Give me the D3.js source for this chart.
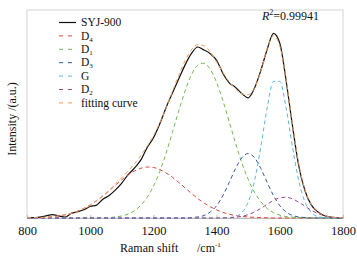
<!DOCTYPE html>
<html>
<head>
<meta charset="utf-8">
<script src="https://cdn.jsdelivr.net/npm/d3@7/dist/d3.min.js"></script>
<style>
  body { margin: 0; background: #fff; }
  svg { display: block; font-family: 'Liberation Serif', 'DejaVu Serif', serif; }
</style>
</head>
<body>
<svg id="mainFrame"></svg>
<script>
// Raman shift grid (cm-1)
const ramanShift = [
    800, 820, 840, 860, 880, 900, 920, 940, 960, 980,
    1000, 1020, 1040, 1060, 1080, 1100, 1120, 1140, 1160, 1180,
    1200, 1220, 1240, 1260, 1280, 1300, 1320, 1340, 1360, 1380,
    1400, 1420, 1440, 1460, 1480, 1500, 1520, 1540, 1560, 1580,
    1600, 1620, 1640, 1660, 1680, 1700, 1720, 1740, 1760, 1780, 1800];

// measured spectrum
const syj900 = [
    0.000, 0.002, 0.004, 0.010, 0.016, 0.010, 0.004, 0.022, 0.030, 0.040,
    0.055, 0.062, 0.090, 0.108, 0.135, 0.168, 0.208, 0.240, 0.278, 0.338,
    0.385, 0.452, 0.530, 0.600, 0.668, 0.735, 0.790, 0.822, 0.808, 0.790,
    0.758, 0.695, 0.650, 0.628, 0.598, 0.578, 0.625, 0.710, 0.810, 0.888,
    0.840, 0.660, 0.445, 0.250, 0.130, 0.062, 0.030, 0.012, 0.004, 0.001, 0.000];

// fitted bands
const d4 = [
    0.001, 0.001, 0.002, 0.004, 0.006, 0.010, 0.015, 0.022, 0.033, 0.046,
    0.063, 0.083, 0.106, 0.131, 0.158, 0.184, 0.207, 0.226, 0.239, 0.245,
    0.243, 0.233, 0.217, 0.196, 0.171, 0.145, 0.119, 0.094, 0.072, 0.054,
    0.039, 0.027, 0.018, 0.012, 0.008, 0.005, 0.003, 0.002, 0.001, 0.000,
    0, 0, 0, 0, 0, 0, 0, 0, 0, 0, 0];
const d1 = [
    0, 0, 0, 0, 0, 0, 0, 0, 0, 0,
    0.000, 0.000, 0.001, 0.002, 0.005, 0.010, 0.019, 0.035, 0.061, 0.099,
    0.152, 0.223, 0.311, 0.411, 0.514, 0.610, 0.687, 0.734, 0.744, 0.715,
    0.652, 0.564, 0.462, 0.360, 0.265, 0.186, 0.123, 0.078, 0.046, 0.026,
    0.014, 0.007, 0.004, 0.002, 0.001, 0, 0, 0, 0, 0, 0];
const d3Band = [
    0, 0, 0, 0, 0, 0, 0, 0, 0, 0,
    0, 0, 0, 0, 0, 0, 0, 0, 0, 0,
    0, 0, 0, 0, 0, 0.000, 0.002, 0.005, 0.012, 0.029,
    0.059, 0.108, 0.171, 0.238, 0.290, 0.310, 0.290, 0.238, 0.171, 0.108,
    0.059, 0.029, 0.012, 0.005, 0.002, 0.000, 0, 0, 0, 0, 0];
const gBand = [
    0, 0, 0, 0, 0, 0, 0, 0, 0, 0,
    0, 0, 0, 0, 0, 0, 0, 0, 0, 0,
    0, 0, 0, 0, 0, 0, 0, 0, 0, 0,
    0, 0.000, 0.002, 0.007, 0.026, 0.076, 0.179, 0.343, 0.529, 0.657,
    0.657, 0.529, 0.343, 0.179, 0.076, 0.026, 0.007, 0.002, 0, 0, 0];
const d2 = [
    0, 0, 0, 0, 0, 0, 0, 0, 0, 0,
    0, 0, 0, 0, 0, 0, 0, 0, 0, 0,
    0, 0, 0, 0, 0, 0, 0, 0, 0, 0,
    0, 0.001, 0.001, 0.004, 0.008, 0.016, 0.029, 0.046, 0.066, 0.084,
    0.097, 0.100, 0.092, 0.076, 0.056, 0.037, 0.022, 0.011, 0.005, 0.002, 0.001];
const fitting = [
    0.001, 0.001, 0.002, 0.004, 0.006, 0.010, 0.015, 0.022, 0.033, 0.046,
    0.063, 0.083, 0.107, 0.133, 0.163, 0.194, 0.226, 0.261, 0.300, 0.344,
    0.395, 0.456, 0.528, 0.607, 0.685, 0.755, 0.808, 0.833, 0.828, 0.798,
    0.750, 0.700, 0.654, 0.621, 0.597, 0.593, 0.624, 0.707, 0.813, 0.876,
    0.827, 0.665, 0.451, 0.261, 0.134, 0.063, 0.029, 0.013, 0.005, 0.002, 0.001];

const xTicks = [800, 1000, 1200, 1400, 1600, 1800];
const r2Value = '0.99941';

const width = 357, height = 260;
const margin = { top: 10, right: 14, bottom: 42, left: 27 };
const plotWidth = width - margin.left - margin.right;
const plotHeight = height - margin.top - margin.bottom;

const svg = d3.select('#mainFrame')
    .attr('width', width)
    .attr('height', height);

const xScale = d3.scaleLinear()
    .domain([800, 1800])
    .range([0, plotWidth]);

const yScale = d3.scaleLinear()
    .domain([0, 1])
    .range([plotHeight, 0]);

const g = svg.append('g')
    .attr('transform', `translate(${margin.left},${margin.top})`);

// frame
g.append('rect')
    .attr('width', plotWidth)
    .attr('height', plotHeight)
    .attr('fill', 'none')
    .attr('stroke', '#d4d4d4')
    .attr('stroke-width', 1);

const xAxis = d3.axisBottom(xScale)
    .tickValues(xTicks)
    .tickFormat(d3.format('d'))
    .tickSizeInner(-3)
    .tickSizeOuter(0)
    .tickPadding(8);

const xAxisGroup = g.append('g')
    .attr('transform', `translate(0,${plotHeight})`)
    .call(xAxis);
xAxisGroup.select('.domain').attr('stroke', '#bdbdbd');
xAxisGroup.selectAll('.tick line').attr('stroke', '#bdbdbd');
xAxisGroup.selectAll('.tick text')
    .attr('font-family', "'Liberation Serif', serif")
    .attr('font-size', 12.5)
    .attr('fill', '#111');

// one entry per drawn curve
const series = [
    { name: 'SYJ-900', values: syj900, color: '#111111', dash: null, width: 1.2 },
    { name: 'D', sub: '4', values: d4, color: '#e2443a', dash: '4,3', width: 1 },
    { name: 'D', sub: '1', values: d1, color: '#74b94c', dash: '4,3', width: 1 },
    { name: 'D', sub: '3', values: d3Band, color: '#34589e', dash: '4,3', width: 1 },
    { name: 'G', values: gBand, color: '#5cb8dd', dash: '4,3', width: 1 },
    { name: 'D', sub: '2', values: d2, color: '#9a4c8e', dash: '4,3', width: 1 },
    { name: 'fitting curve', values: fitting, color: '#f29a5a', dash: '4,3', width: 1 }
];

const line = d3.line()
    .x((d, i) => xScale(ramanShift[i]))
    .y(d => yScale(d))
    .curve(d3.curveMonotoneX);

g.selectAll('path.series').data(series)
    .enter().append('path')
        .attr('class', 'series')
        .attr('d', d => line(d.values))
        .attr('fill', 'none')
        .attr('stroke', d => d.color)
        .attr('stroke-width', d => d.width)
        .attr('stroke-dasharray', d => d.dash);

// legend
const legend = svg.append('g')
    .attr('transform', 'translate(59,22.5)');

const legendItems = legend.selectAll('g').data(series)
    .enter().append('g')
        .attr('transform', (d, i) => `translate(0,${i * 13.4})`);

legendItems.append('line')
    .attr('x1', 0).attr('x2', 17)
    .attr('stroke', d => d.color)
    .attr('stroke-width', d => d.width)
    .attr('stroke-dasharray', d => d.dash ? '4,5' : null);

const legendText = legendItems.append('text')
    .attr('x', 22)
    .attr('dy', '0.33em')
    .attr('font-size', 11.5)
    .attr('fill', '#111');
legendText.append('tspan').text(d => d.name);
legendText.filter(d => d.sub).append('tspan')
    .attr('dy', 2)
    .attr('font-size', 7)
    .text(d => d.sub);

// R^2 label
const r2 = svg.append('text')
    .attr('x', 262)
    .attr('y', 20)
    .attr('font-size', 12)
    .attr('fill', '#111');
r2.append('tspan').attr('font-style', 'italic').text('R');
r2.append('tspan').attr('dy', -5).attr('font-size', 8).text('2');
r2.append('tspan').attr('dy', 5).text('=' + r2Value);

// axis titles
const xTitle = svg.append('text')
    .attr('x', 120)
    .attr('y', 252)
    .attr('font-size', 12)
    .attr('fill', '#111');
xTitle.append('tspan').text('Raman shift');
xTitle.append('tspan').attr('x', 197).text('/cm');
xTitle.append('tspan').attr('dy', -5).attr('font-size', 7).text('-1');

svg.append('text')
    .attr('transform', 'translate(16,119) rotate(-90)')
    .attr('text-anchor', 'middle')
    .attr('font-size', 12)
    .attr('fill', '#111')
    .text('Intensity /(a.u.)');
</script>
</body>
</html>
